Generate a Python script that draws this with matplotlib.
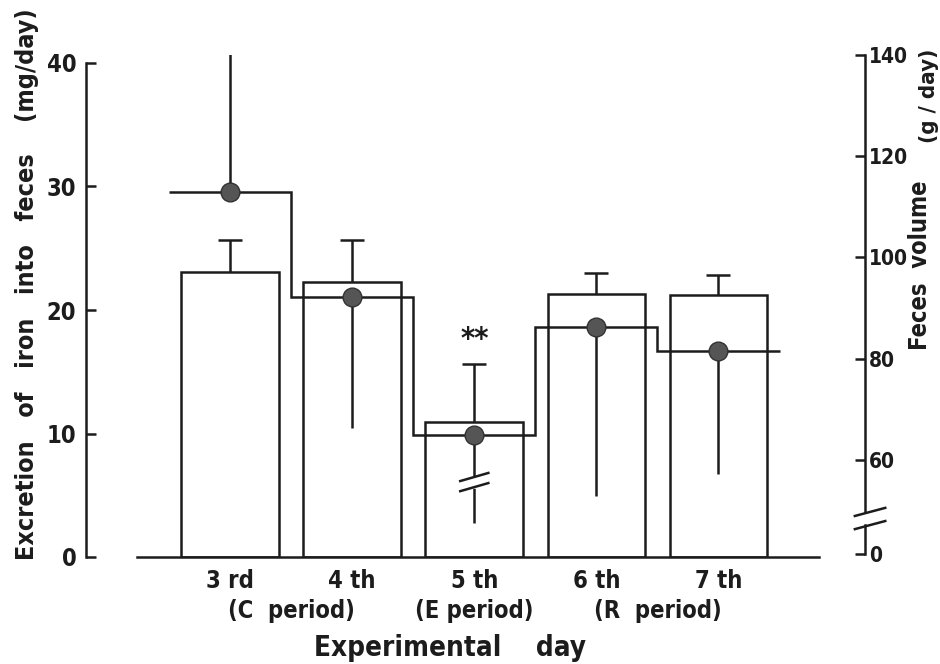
import numpy as np
import matplotlib
matplotlib.use("Agg")
import matplotlib.pyplot as plt
import matplotlib.transforms as mtransforms

plt.rcParams['font.family'] = ['DejaVu Sans']
plt.rcParams['font.stretch'] = 'condensed'
plt.rcParams['font.weight'] = 'bold'

# data
days = ['3 rd', '4 th', '5 th', '6 th', '7 th']
periods = ['(C  period)', '(E period)', '(R  period)']
period_pos = [0.5, 2.0, 3.5]

iron_mean = [23.1, 22.3, 10.9, 21.3, 21.2]      # mg/day, bars
iron_sd = [2.6, 3.4, 4.7, 1.7, 1.6]

vol_mean = [112.9, 92.2, 64.9, 86.2, 81.5]      # g/day, circles + step
vol_sd_up = [29.5, 0, 0, 0, 0]
vol_sd_down = [0, 25.9, 17.4, 33.4, 24.3]

ink = '#1c1c1c'
lw = 1.8

fig = plt.figure(figsize=(9.4, 6.64), dpi=100)
W, H = 940, 664

def frac(x0, x1, ytop, ybot):
    return [x0 / W, (H - ybot) / H, (x1 - x0) / W, (ybot - ytop) / H]

ax1 = fig.add_axes(frac(86, 865, 63, 557))
ax2 = fig.add_axes(frac(86, 865, 55, 554))
ax2.set_facecolor('none')

x = np.arange(len(days))
xlim = (-1.18, 5.2)

# bars: iron excretion, SD upward only
ax1.bar(x, iron_mean, width=0.8, color='white', edgecolor=ink, linewidth=lw, zorder=2)
eb = ax1.errorbar(x, iron_mean, yerr=[np.zeros(len(x)), iron_sd], fmt='none', ecolor=ink,
                  elinewidth=lw, capsize=8.6, capthick=lw, zorder=3)
eb.lines[1][0].set_visible(False)
ax1.set_xlim(*xlim)
ax1.set_ylim(0, 40)
ax1.set_yticks([0, 10, 20, 30, 40])
ax1.tick_params(axis='y', direction='in', length=7.5, width=lw, labelsize=17, pad=7, colors=ink)
ax1.set_xticks(x, days)
ax1.tick_params(axis='x', length=0, labelsize=17, pad=9, colors=ink)
for s in ['top', 'right']:
    ax1.spines[s].set_visible(False)
for s in ['left', 'bottom']:
    ax1.spines[s].set_linewidth(lw)
    ax1.spines[s].set_color(ink)
ax1.spines['bottom'].set_bounds(-0.76, 4.82)
ax1.text(2, 17.6, '**', ha='center', va='center', fontsize=22, color=ink)

xt = ax1.get_xaxis_transform()
for p, lab in zip(period_pos, periods):
    ax1.text(p, -0.11, lab, transform=xt, ha='center', va='center', fontsize=17, color=ink)
ax1.text(1.8, -0.185, 'Experimental    day', transform=xt, ha='center', va='center',
         fontsize=20, color=ink)

# feces volume: step line + circles
edges = np.arange(len(x) + 1) - 0.5
ax2.stairs(vol_mean, edges, baseline=None, color=ink, linewidth=lw, zorder=3)
ax2.errorbar(x, vol_mean, yerr=[vol_sd_down, vol_sd_up], fmt='o', ms=13.5,
             mfc='#555555', mec='#333333', ecolor=ink, elinewidth=lw, capsize=0, zorder=4)

vbot = 140 - (554 - 55) / 5.06
ax2.set_xlim(*xlim)
ax2.set_ylim(vbot, 140)
ax2.set_xticks([])
ax2.yaxis.tick_right()
ax2.set_yticks([vbot, 60, 80, 100, 120, 140], ['0', '60', '80', '100', '120', '140'])
ax2.tick_params(axis='y', direction='in', length=7.5, width=lw, labelsize=15, pad=3, colors=ink)
for s in ['top', 'left', 'bottom']:
    ax2.spines[s].set_visible(False)
ax2.spines['right'].set_linewidth(lw)
ax2.spines['right'].set_color(ink)

# axis break on right spine
b_hi, b_lo = 49.7, 47.1
ax2.spines['right'].set_bounds(b_hi, 140)
bt = mtransforms.blended_transform_factory(ax2.transAxes, ax2.transData)
ax2.plot([1, 1], [vbot, b_lo], transform=bt, color=ink, lw=lw, clip_on=False)
for yb in (b_hi, b_lo):
    ax2.plot([0.987, 1.026], [yb - 0.8, yb + 0.8], transform=bt, color=ink, lw=lw, clip_on=False)

# break on the 5th day error bar
g_hi, g_lo = 56.6, 54.6
ax2.plot([2, 2], [g_lo + 0.3, g_hi - 0.3], color='white', lw=4, zorder=5)
for yb in (g_hi, g_lo):
    ax2.plot([2 - 0.115, 2 + 0.115], [yb - 0.8, yb + 0.8], color=ink, lw=lw, zorder=6)

fig.text(27 / W, (H - 284) / H, 'Excretion   of   iron   into   feces    (mg/day)', rotation=90,
         ha='center', va='center', fontsize=18, color=ink)
fig.text(920 / W, (H - 265) / H, 'Feces  volume', rotation=90,
         ha='center', va='center', fontsize=17, color=ink)
fig.text(929 / W, (H - 96) / H, '(g / day)', rotation=90,
         ha='center', va='center', fontsize=16, color=ink)

fig.savefig('out.png', dpi=100)
